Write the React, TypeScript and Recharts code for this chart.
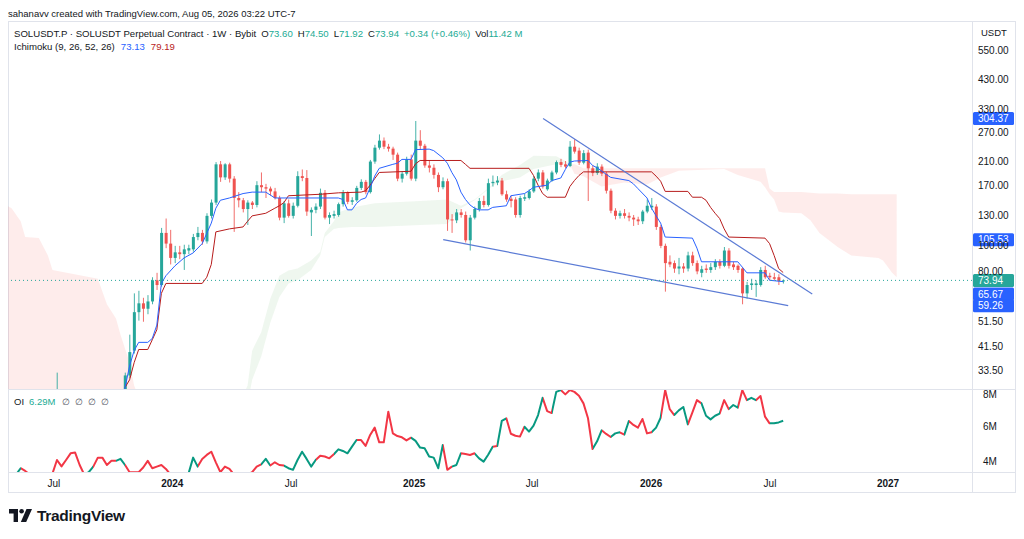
import React from "react";
import { ComposedChart, Bar, Line, Area, XAxis, YAxis, ReferenceLine } from "recharts";

const FONT = '"Liberation Sans", Arial, Helvetica, sans-serif';
const INK = "#131722";
const UP = "#26A69A";
const DOWN = "#EF5350";
const TEAL = "#22AB94";
const TENKAN = "#2962FF";
const KIJUN = "#B71C1C";
const TREND = "#5B7BD5";
const TAG_BLUE = "#2962FF";
const BORDER = "#E0E3EB";
const OI_UP = "#089981";
const OI_DOWN = "#F23645";

// ---- weekly candles, index 0 = first week on the chart ----
const candleOpen = [
  24.5, 22.8, 21.5, 20.8, 20.2, 21.0, 20.5, 17.5, 16.2, 15.8,
  18.6, 24.5, 24.8, 23.9, 22.9, 23.5, 21.8, 20.3, 19.5, 20.5,
  19.5, 20.8, 21.4, 23.3, 22.4, 27.5, 32.2, 40, 56, 60.5,
  57.7, 61.5, 74, 71, 112, 102, 90, 94.5, 93, 96,
  97, 108, 112, 104, 130, 146, 204, 182, 204, 180,
  152, 149, 138, 146, 143, 170, 167, 165, 161, 152,
  128, 145, 130, 142, 184, 181, 134, 137, 141, 159,
  128, 130, 131, 144, 159, 147, 149, 166, 175, 160,
  209, 236, 251, 238, 234, 222, 180, 188, 213, 180,
  251, 240, 202, 198, 186, 167, 176, 126, 125, 134,
  131, 105, 128, 138, 148, 143, 173, 174, 177, 157,
  151, 150, 131, 151, 152, 161, 180, 190, 164, 177,
  190, 208, 204, 201, 238, 230, 207, 226, 197, 189,
  200, 188, 162, 136, 130, 133, 130, 128, 126, 124,
  135, 140, 141, 118, 100, 87, 86, 82, 83.5, 82,
  92, 86, 79, 82, 81, 83, 87, 84, 96, 85,
  84, 82, 66, 71, 71, 71, 81, 77, 76, 76,
  73.6,
];
const candleHigh = [
  25.2, 23.4, 22.2, 21.6, 21.8, 21.5, 20.9, 18.0, 17.1, 19.2,
  33.0, 27.6, 26.2, 24.8, 24.4, 23.8, 22.0, 21.5, 21.2, 21.0,
  21.3, 22.3, 23.8, 24.5, 28.2, 33, 46, 66, 67.5, 63.5,
  65, 76, 79, 117, 127, 115, 100, 100, 101, 101,
  111, 118, 115, 133, 150, 208, 210, 206, 207, 184,
  160, 152, 149, 148, 176, 190, 172, 168, 166, 155,
  148, 150, 146, 192, 195, 194, 140, 145, 165, 163,
  134, 136, 146, 163, 161, 153, 169, 179, 178, 212,
  242, 265, 258, 244, 238, 226, 192, 218, 222, 298,
  275, 244, 210, 204, 190, 182, 180, 132, 138, 138,
  135, 131, 141, 152, 155, 180, 185, 184, 181, 162,
  155, 153, 155, 158, 164, 184, 195, 194, 180, 193,
  211, 214, 210, 250, 254, 236, 231, 232, 202, 206,
  204, 191, 165, 139, 136, 138, 134, 131, 129, 137,
  150, 152, 144, 120, 102, 92, 88, 90, 86, 95,
  95, 88, 84, 85, 86, 89, 89, 99, 98, 87,
  85, 83, 73, 75, 74, 83, 84, 79, 79, 78,
  74.5,
];
const candleLow = [
  22.5, 20.9, 20.1, 19.6, 19.8, 19.9, 17.0, 15.3, 15.2, 15.6,
  18.0, 23.0, 23.2, 22.5, 22.1, 21.2, 19.8, 19.0, 19.0, 18.9,
  18.8, 19.3, 20.9, 21.8, 22.0, 26.5, 31.5, 39, 52, 51.5,
  55, 60, 68, 70, 98, 85, 86, 89, 81, 93,
  95, 105, 101, 102, 127, 143, 175, 178, 174, 113,
  140, 134, 120, 138, 140, 160, 152, 155, 150, 125,
  122, 128, 127, 140, 176, 130, 109, 133, 138, 126,
  121, 127, 129, 141, 144, 143, 147, 163, 157, 158,
  205, 232, 233, 228, 212, 176, 174, 185, 177, 176,
  232, 198, 190, 180, 160, 164, 114, 112, 122, 128,
  103, 96, 126, 135, 140, 141, 168, 170, 155, 147,
  140, 128, 128, 148, 150, 159, 176, 165, 162, 175,
  187, 199, 197, 199, 224, 203, 204, 148, 184, 186,
  184, 158, 133, 126, 127, 127, 124, 119, 120, 121,
  133, 137, 115, 98, 67, 83, 79, 78, 79, 80,
  84, 78, 76, 79, 79, 81, 82, 83, 82, 81,
  79, 60, 63, 68, 64, 70, 75, 74, 74, 71,
  71.92,
];
const candleClose = [
  22.8, 21.5, 20.8, 20.2, 21.0, 20.5, 17.5, 16.2, 15.8, 18.6,
  24.5, 24.8, 23.9, 22.9, 23.5, 21.8, 20.3, 19.5, 20.5, 19.5,
  20.8, 21.4, 23.3, 22.4, 27.5, 32.2, 39.5, 56, 60.5, 57.7,
  61.5, 74, 71, 112, 102, 90, 94.5, 93, 97, 98,
  108, 112, 104, 130, 146, 204, 182, 204, 180, 152,
  149, 138, 146, 143, 170, 167, 165, 161, 152, 128,
  145, 130, 142, 184, 181, 135, 137, 141, 159, 128,
  131, 132, 144, 159, 147, 149, 166, 175, 160, 209,
  236, 251, 238, 234, 222, 180, 188, 213, 180, 251,
  240, 202, 198, 186, 167, 176, 126, 125, 134, 131,
  105, 128, 138, 148, 143, 173, 175, 177, 157, 150,
  148, 131, 152, 153, 161, 180, 190, 168, 177, 190,
  208, 203, 200, 238, 228, 207, 225, 197, 189, 200,
  188, 162, 136, 130, 133, 130, 128, 126, 124, 135,
  142, 142, 118, 100, 86, 85, 82, 83.5, 82, 92,
  86, 80, 81.5, 81, 83, 87, 84, 96, 84, 83,
  81, 66, 71, 72, 72, 81, 76, 76, 75, 73.6,
  73.94,
];
const lastVolume = "11.42 M";

// ---- Ichimoku, read at the weeks where the lines bend ----
const tenkanWeek = [24, 25, 26, 27, 28, 30, 31, 32, 33, 34, 36, 38, 40, 42, 44, 45, 46, 48, 51, 53, 56, 57, 58, 72, 73, 74, 75, 76, 77, 78, 79, 80, 81, 84, 85, 86, 88, 89, 92, 93, 95, 96, 97, 98, 99, 100, 101, 102, 103, 105, 106, 109, 110, 113, 114, 115, 118, 119, 121, 122, 123, 124, 127, 128, 129, 131, 132, 136, 137, 138, 140, 141, 142, 143, 144, 150, 151, 152, 160, 161, 162, 166, 167, 170];
const tenkanValue = [26, 29, 35, 40, 43, 43, 44.5, 50, 72, 77, 84, 90, 94, 102, 122, 139, 149, 152, 158, 160, 160, 156, 152, 152, 150, 137, 137, 145, 150, 152, 166, 184, 197, 204, 206, 213, 213, 232, 233, 230, 216, 206, 190, 178, 160, 150, 143, 139, 137, 137, 140, 142, 155, 158, 162, 167, 170, 177, 181, 195, 208, 210, 211, 202, 198, 187, 182, 177, 172, 165, 152, 139, 130, 122, 108, 107, 98, 87, 87, 83, 79, 79, 74, 73.13];
const kijunWeek = [25, 26, 27, 28, 30, 31, 32, 33, 34, 42, 43, 44, 45, 48, 51, 52, 53, 56, 58, 59, 60, 61, 68, 72, 77, 78, 79, 80, 81, 88, 89, 90, 99, 100, 101, 114, 115, 116, 117, 118, 122, 123, 124, 125, 126, 141, 142, 143, 144, 149, 150, 152, 153, 154, 155, 156, 157, 158, 166, 167, 168, 169, 170];
const kijunValue = [29, 31, 36, 40.4, 40.4, 44, 48, 66, 72, 72, 76, 85, 113, 116, 118, 124, 130, 133, 139, 142, 146, 155, 157, 159, 160, 162, 170, 180, 190, 192, 205, 211, 211, 204, 197, 197, 185, 170, 158, 153, 153, 168, 177, 185, 191, 191, 184, 176, 161, 161, 153, 153, 149, 140, 133, 127, 116, 108, 107, 102, 92, 82, 79.19];
const cloudWeek = [-1, 0, 2, 3, 6, 8, 9, 19, 21, 23, 24, 26, 27, 29, 40, 51, 52, 53, 55, 57, 59, 61, 63, 66, 68, 69, 71, 72, 75, 80, 90, 96, 99, 102, 106, 108, 112, 115, 120, 122, 123, 124, 126, 130, 135, 140, 143, 147, 157, 160, 165, 166, 167, 168, 169, 170, 174, 176, 178, 182, 185, 191, 192, 194, 195];
const spanA = [20, 20, 20, 20, 20, 21, 21, 22, 22, 23, 23, 24, 24, 24, 25, 27, 29.5, 40, 47, 63, 77, 80.7, 82, 88, 95, 112, 124, 134, 140, 145, 148, 150, 142, 150, 171, 186, 203, 220, 219, 210, 204, 188, 184, 168, 174, 171, 182, 193, 196, 186, 175, 167, 157, 150, 135, 134, 133, 125, 112, 99, 92, 90, 88, 79, 76];
const spanB = [142, 139, 124, 108, 107, 92, 81, 75, 60, 53, 46, 36, 29.5, 24, 23, 24, 25, 31, 38, 51, 64, 72, 74, 81, 92, 108, 116, 117, 118, 118, 120, 121, 139, 149, 169, 176, 182, 196, 204, 204, 204, 204, 197, 197, 197, 197, 197, 197, 197, 197, 197, 197, 165, 160, 160, 160, 160, 159, 158, 158, 157, 157, 157, 157, 157];

// ---- falling-wedge trend lines (week, price) ----
const upperTrend = [{ x: 117.1, y: 304.37 }, { x: 176.4, y: 65.67 }];
const lowerTrend = [{ x: 95.1, y: 105.53 }, { x: 171.1, y: 59.26 }];

// ---- open interest (millions), colour per weekly segment ----
const oiValues = [
  3.2, 3.3, 3.65, 3.5, 3.3, 3.2, 3.1, 3.2, 3.25, 3.35,
  4.11, 3.75, 4.11, 4.48, 4.52, 3.83, 3.3, 3.43, 3.74, 4.24,
  4.24, 3.83, 4.06, 4.06, 4.17, 3.83, 3.43, 3.43, 3.43, 3.69,
  4.06, 3.65, 3.74, 3.83, 3.61, 3.3, 3.2, 3.2, 3.25, 3.37,
  4.24, 3.74, 4.17, 4.39, 4.57, 3.98, 3.43, 3.74, 3.61, 3.3,
  3.2, 3.2, 3.3, 3.43, 3.74, 3.87, 4.17, 3.8, 3.98, 3.83,
  3.8, 3.65, 3.56, 4.11, 4.57, 4.17, 3.74, 4.11, 4.35, 4.3,
  4.2, 4.43, 4.7, 4.61, 4.48, 4.85, 5.22, 5.22, 4.89, 5.5,
  5.91, 5.09, 5.09, 6.8, 5.59, 5.44, 5.37, 5.2, 5.35, 5.17,
  4.8, 4.76, 4.3, 4.24, 3.65, 4.94, 3.56, 3.74, 3.83, 4.48,
  4.44, 4.39, 4.48, 4.2, 4.02, 4.4, 4.85, 4.89, 6.28, 6.43,
  5.57, 5.46, 5.41, 5.96, 5.69, 6.02, 6.61, 7.57, 6.83, 6.72,
  7.9, 8.0, 7.76, 8.0, 7.9, 7.69, 7.26, 6.43, 4.72, 5.15,
  5.76, 5.56, 5.39, 5.59, 5.65, 5.52, 6.28, 6.06, 5.91, 6.39,
  5.59, 5.65, 5.91, 6.46, 8.0, 6.94, 6.61, 6.87, 7.06, 6.09,
  6.76, 7.44, 7.26, 6.57, 6.37, 6.57, 6.69, 7.44, 6.94, 7.17,
  7.02, 8.0, 7.44, 7.57, 7.44, 7.67, 6.52, 6.15, 6.15, 6.2,
  6.29,
];
const oiDirection = (
  "gggrrrrrrr" + "rrrrrrrggr" + "rrrrggrrrr" + "rrrrrrrrrg" + "ggrrrrrrrr" +
  "rrrrrrggrr" + "rgggggggrr" + "rrgggggrrr" + "rrrrrrrrrg" + "ggggggrrgg" +
  "rrrggggrgg" + "rrrrggggrr" + "ggrrrrrrrg" + "grrggrgrrr" + "rrggrrrggg" +
  "rrrggggrrg" + "grrggrrrgg" + "g"
).split("");

// ---- axes ----
const timeTicks = [9.3, 35.4, 61.6, 88.7, 114.7, 140.9, 167.1, 193.1];
const timeLabels = ["Jul", "2024", "Jul", "2025", "Jul", "2026", "Jul", "2027"];
const priceTicks = [33.5, 41.5, 51.5, 80, 100, 130, 170, 210, 270, 330, 430, 550];
const oiTicks = [4, 6, 8];
const X_DOMAIN = [-0.79, 211.6];
const PRICE_DOMAIN = [28.6, 714.5];
const OI_DOMAIN = [3.44, 8.06];

// ---- build rows ----
type Row = {
  t: number; o?: number; h?: number; l?: number; c?: number;
  tenkan?: number; kijun?: number; green?: number[]; red1?: number[]; red2?: number[];
};
const rows: Row[] = [];
for (let t = -1; t <= 211; t++) {
  const r: Row = { t };
  if (t >= 0 && t < candleOpen.length) {
    r.o = candleOpen[t]; r.h = candleHigh[t]; r.l = candleLow[t]; r.c = candleClose[t];
  }
  rows.push(r);
}
const rowAt = (t: number) => rows[t + 1];
tenkanWeek.forEach((t, k) => { rowAt(t).tenkan = tenkanValue[k]; });
kijunWeek.forEach((t, k) => { rowAt(t).kijun = kijunValue[k]; });
cloudWeek.forEach((t, k) => {
  const a = spanA[k], b = spanB[k], r = rowAt(t);
  if (a >= b) r.green = [b, a];
  if (b >= a) { if (t <= 60) r.red1 = [a, b]; else r.red2 = [a, b]; }
});
const oiRows = oiValues.map((v, i) => ({ t: i, oi: v }));
const oiLastIdx = oiValues.length - 1;
const oiStops: any[] = [];
for (let k = 1; k <= oiLastIdx; k++) {
  const col = oiDirection[k] === "g" ? OI_UP : OI_DOWN;
  oiStops.push(<stop key={`a${k}`} offset={(k - 1) / oiLastIdx} stopColor={col} />);
  oiStops.push(<stop key={`b${k}`} offset={k / oiLastIdx} stopColor={col} />);
}

const n = candleClose.length - 1;
const lastO = candleOpen[n], lastH = candleHigh[n], lastL = candleLow[n], lastC = candleClose[n];
const chg = lastC - candleClose[n - 1];
const chgPct = (chg / candleClose[n - 1]) * 100;
const priceTags = [
  { p: upperTrend[0].y, color: TAG_BLUE },
  { p: lowerTrend[0].y, color: TAG_BLUE },
  { p: upperTrend[1].y, color: TAG_BLUE },
  { p: lowerTrend[1].y, color: TAG_BLUE },
];

const Candle = (props: any) => {
  const { x, y, width, height, payload } = props;
  if (!payload || payload.o == null || !isFinite(y) || !isFinite(height)) return <g />;
  const top = Math.min(y, y + height), bot = Math.max(y, y + height);
  const lh = Math.log(payload.h), ll = Math.log(payload.l);
  const span = lh - ll || 1;
  const py = (v: number) => top + ((lh - Math.log(v)) / span) * (bot - top);
  const col = payload.c >= payload.o ? UP : DOWN;
  const cx = x + width / 2;
  const yo = py(payload.o), yc = py(payload.c);
  const bt = Math.min(yo, yc), bh = Math.max(1, Math.abs(yo - yc));
  return (
    <g>
      <line x1={cx} x2={cx} y1={top} y2={bot} stroke={col} strokeWidth={1} strokeOpacity={0.85} />
      <rect x={x} y={bt} width={width} height={bh} fill={col} />
    </g>
  );
};

const PriceTag = (props: any) => {
  const vb = props.viewBox || {};
  const right = (vb.x || 0) + (vb.width || 0);
  const y = vb.y || 0;
  return (
    <g>
      <rect x={right + 1} y={y - 6.5} width={41} height={13} rx={1.5} fill={props.color} />
      <text x={right + 6} y={y + 3.6} fill="#ffffff" fontSize={10} fontFamily={FONT}>{props.text}</text>
    </g>
  );
};

const TimeTick = (props: any) => {
  const { x, y, payload } = props;
  const idx = timeTicks.indexOf(payload.value);
  const label = timeLabels[idx] ?? "";
  const bold = /^\d/.test(label);
  return (
    <text x={x} y={y + 14.5} textAnchor="middle" fontSize={10} fontWeight={bold ? 700 : 400} fill={INK} fontFamily={FONT}>
      {label}
    </text>
  );
};

function PriceChart() {
  return (
    <ComposedChart width={1008} height={368} data={rows} margin={{ top: 0, right: 0, bottom: 0, left: 0 }}>
      <XAxis type="number" dataKey="t" domain={X_DOMAIN} allowDataOverflow hide />
      <YAxis
        orientation="right" scale="log" domain={PRICE_DOMAIN} allowDataOverflow ticks={priceTicks}
        width={44} axisLine={false} tickLine={false} tickSize={0} tickMargin={6}
        tick={{ fill: INK, fontSize: 10, fontFamily: FONT }}
        tickFormatter={(v: number) => Number(v).toFixed(2)}
      />
      <Area dataKey="red1" type="linear" stroke="none" fill="#F44336" fillOpacity={0.1} connectNulls isAnimationActive={false} />
      <Area dataKey="red2" type="linear" stroke="none" fill="#F44336" fillOpacity={0.1} connectNulls isAnimationActive={false} />
      <Area dataKey="green" type="linear" stroke="none" fill="#43A047" fillOpacity={0.085} connectNulls isAnimationActive={false} />
      <Bar
        dataKey={(d: Row) => (d.h != null ? [d.l, d.h] : null)}
        barSize={3}
        shape={(p: any) => <Candle {...p} />}
        isAnimationActive={false}
      />
      <Line dataKey="kijun" type="linear" stroke={KIJUN} strokeWidth={1} dot={false} connectNulls isAnimationActive={false} />
      <Line dataKey="tenkan" type="linear" stroke={TENKAN} strokeWidth={1} dot={false} connectNulls isAnimationActive={false} />
      <ReferenceLine segment={upperTrend} stroke={TREND} strokeWidth={1.2} ifOverflow="visible" />
      <ReferenceLine segment={lowerTrend} stroke={TREND} strokeWidth={1.2} ifOverflow="visible" />
      <ReferenceLine
        y={lastC} stroke={UP} strokeDasharray="1 3" ifOverflow="visible"
        label={<PriceTag text={lastC.toFixed(2)} color={UP} />}
      />
      {priceTags.map((tg) => (
        <ReferenceLine
          key={tg.p} y={tg.p} stroke="transparent" ifOverflow="visible"
          label={<PriceTag text={tg.p.toFixed(2)} color={tg.color} />}
        />
      ))}
    </ComposedChart>
  );
}

function OiChart() {
  return (
    <ComposedChart width={1008} height={104} data={oiRows} margin={{ top: 0, right: 0, bottom: 0, left: 0 }}>
      <XAxis
        type="number" dataKey="t" domain={X_DOMAIN} allowDataOverflow ticks={timeTicks} interval={0}
        height={21} axisLine={false} tickLine={false} tickSize={0} tickMargin={0}
        tick={(p: any) => <TimeTick {...p} />}
      />
      <YAxis
        orientation="right" domain={OI_DOMAIN} allowDataOverflow ticks={oiTicks} width={44}
        axisLine={false} tickLine={false} tickSize={0} tickMargin={11}
        tick={{ fill: INK, fontSize: 10, fontFamily: FONT }}
        tickFormatter={(v: number) => `${v}M`}
      />
      <Line
        dataKey="oi" type="linear" stroke="url(#oiStroke)" strokeWidth={2} strokeLinejoin="round"
        dot={false} isAnimationActive={false}
      />
    </ComposedChart>
  );
}

const abs = (s: React.CSSProperties): React.CSSProperties => ({ position: "absolute", ...s });

export default function App() {
  return (
    <div style={abs({ left: 0, top: 0, width: 1024, height: 539, background: "#ffffff", fontFamily: FONT, color: INK, overflow: "hidden" })}>
      <svg width={0} height={0} style={{ position: "absolute" }}>
        <defs>
          <linearGradient id="oiStroke" x1="0" y1="0" x2="1" y2="0">{oiStops}</linearGradient>
        </defs>
      </svg>

      <div style={abs({ left: 8, top: 8, fontSize: 9.5, lineHeight: "12px", whiteSpace: "nowrap" })}>
        sahanavv created with TradingView.com, Aug 05, 2026 03:22 UTC-7
      </div>

      <div style={abs({ left: 8, top: 21, width: 1008, height: 472, border: `1px solid ${BORDER}`, boxSizing: "border-box" })} />

      <div style={abs({ left: 8, top: 21 })}><PriceChart /></div>
      <div style={abs({ left: 8, top: 389 })}><OiChart /></div>

      <div style={abs({ left: 8, top: 388.5, width: 1008, height: 1, background: BORDER })} />
      <div style={abs({ left: 8, top: 472, width: 1008, height: 1, background: BORDER })} />
      <div style={abs({ left: 972, top: 21, width: 1, height: 472, background: BORDER })} />

      <div style={abs({ left: 981, top: 27, fontSize: 9.5, lineHeight: "12px" })}>USDT</div>

      <div style={abs({ left: 14, top: 28, fontSize: 9.6, lineHeight: "12px", whiteSpace: "nowrap" })}>
        <span>SOLUSDT.P · SOLUSDT Perpetual Contract · 1W · Bybit</span>
        <span style={{ marginLeft: 5 }}>O<span style={{ color: TEAL }}>{lastO.toFixed(2)}</span></span>
        <span style={{ marginLeft: 5 }}>H<span style={{ color: TEAL }}>{lastH.toFixed(2)}</span></span>
        <span style={{ marginLeft: 5 }}>L<span style={{ color: TEAL }}>{lastL.toFixed(2)}</span></span>
        <span style={{ marginLeft: 5 }}>C<span style={{ color: TEAL }}>{lastC.toFixed(2)}</span></span>
        <span style={{ marginLeft: 5, color: TEAL }}>{`+${chg.toFixed(2)} (+${chgPct.toFixed(2)}%)`}</span>
        <span style={{ marginLeft: 5 }}>Vol<span style={{ color: TEAL }}>{lastVolume}</span></span>
      </div>
      <div style={abs({ left: 14, top: 41, fontSize: 9.6, lineHeight: "12px", whiteSpace: "nowrap" })}>
        <span>Ichimoku (9, 26, 52, 26)</span>
        <span style={{ marginLeft: 6, color: TENKAN }}>{tenkanValue[tenkanValue.length - 1].toFixed(2)}</span>
        <span style={{ marginLeft: 6, color: KIJUN }}>{kijunValue[kijunValue.length - 1].toFixed(2)}</span>
      </div>

      <div style={abs({ left: 14, top: 396, fontSize: 9.5, lineHeight: "12px", whiteSpace: "nowrap" })}>
        <span>OI</span>
        <span style={{ marginLeft: 5, color: TEAL }}>{`${oiValues[oiLastIdx].toFixed(2)}M`}</span>
        {[0, 1, 2, 3].map((k) => (
          <span key={k} style={{ marginLeft: k === 0 ? 7 : 5, color: "#50535E", fontSize: 9 }}>∅</span>
        ))}
      </div>

      <svg style={{ position: "absolute", left: 9, top: 509 }} width={26} height={15}>
        <path d="M0 0 H9 V13 H4.6 V4.4 H0 Z" fill={INK} />
        <circle cx={12.6} cy={2.3} r={2.3} fill={INK} />
        <path d="M17.5 0 H23 L17.2 13 H11.8 Z" fill={INK} />
      </svg>
      <div style={abs({ left: 37, top: 506, fontSize: 15.5, fontWeight: 700, lineHeight: "20px", letterSpacing: -0.3 })}>
        TradingView
      </div>
    </div>
  );
}
